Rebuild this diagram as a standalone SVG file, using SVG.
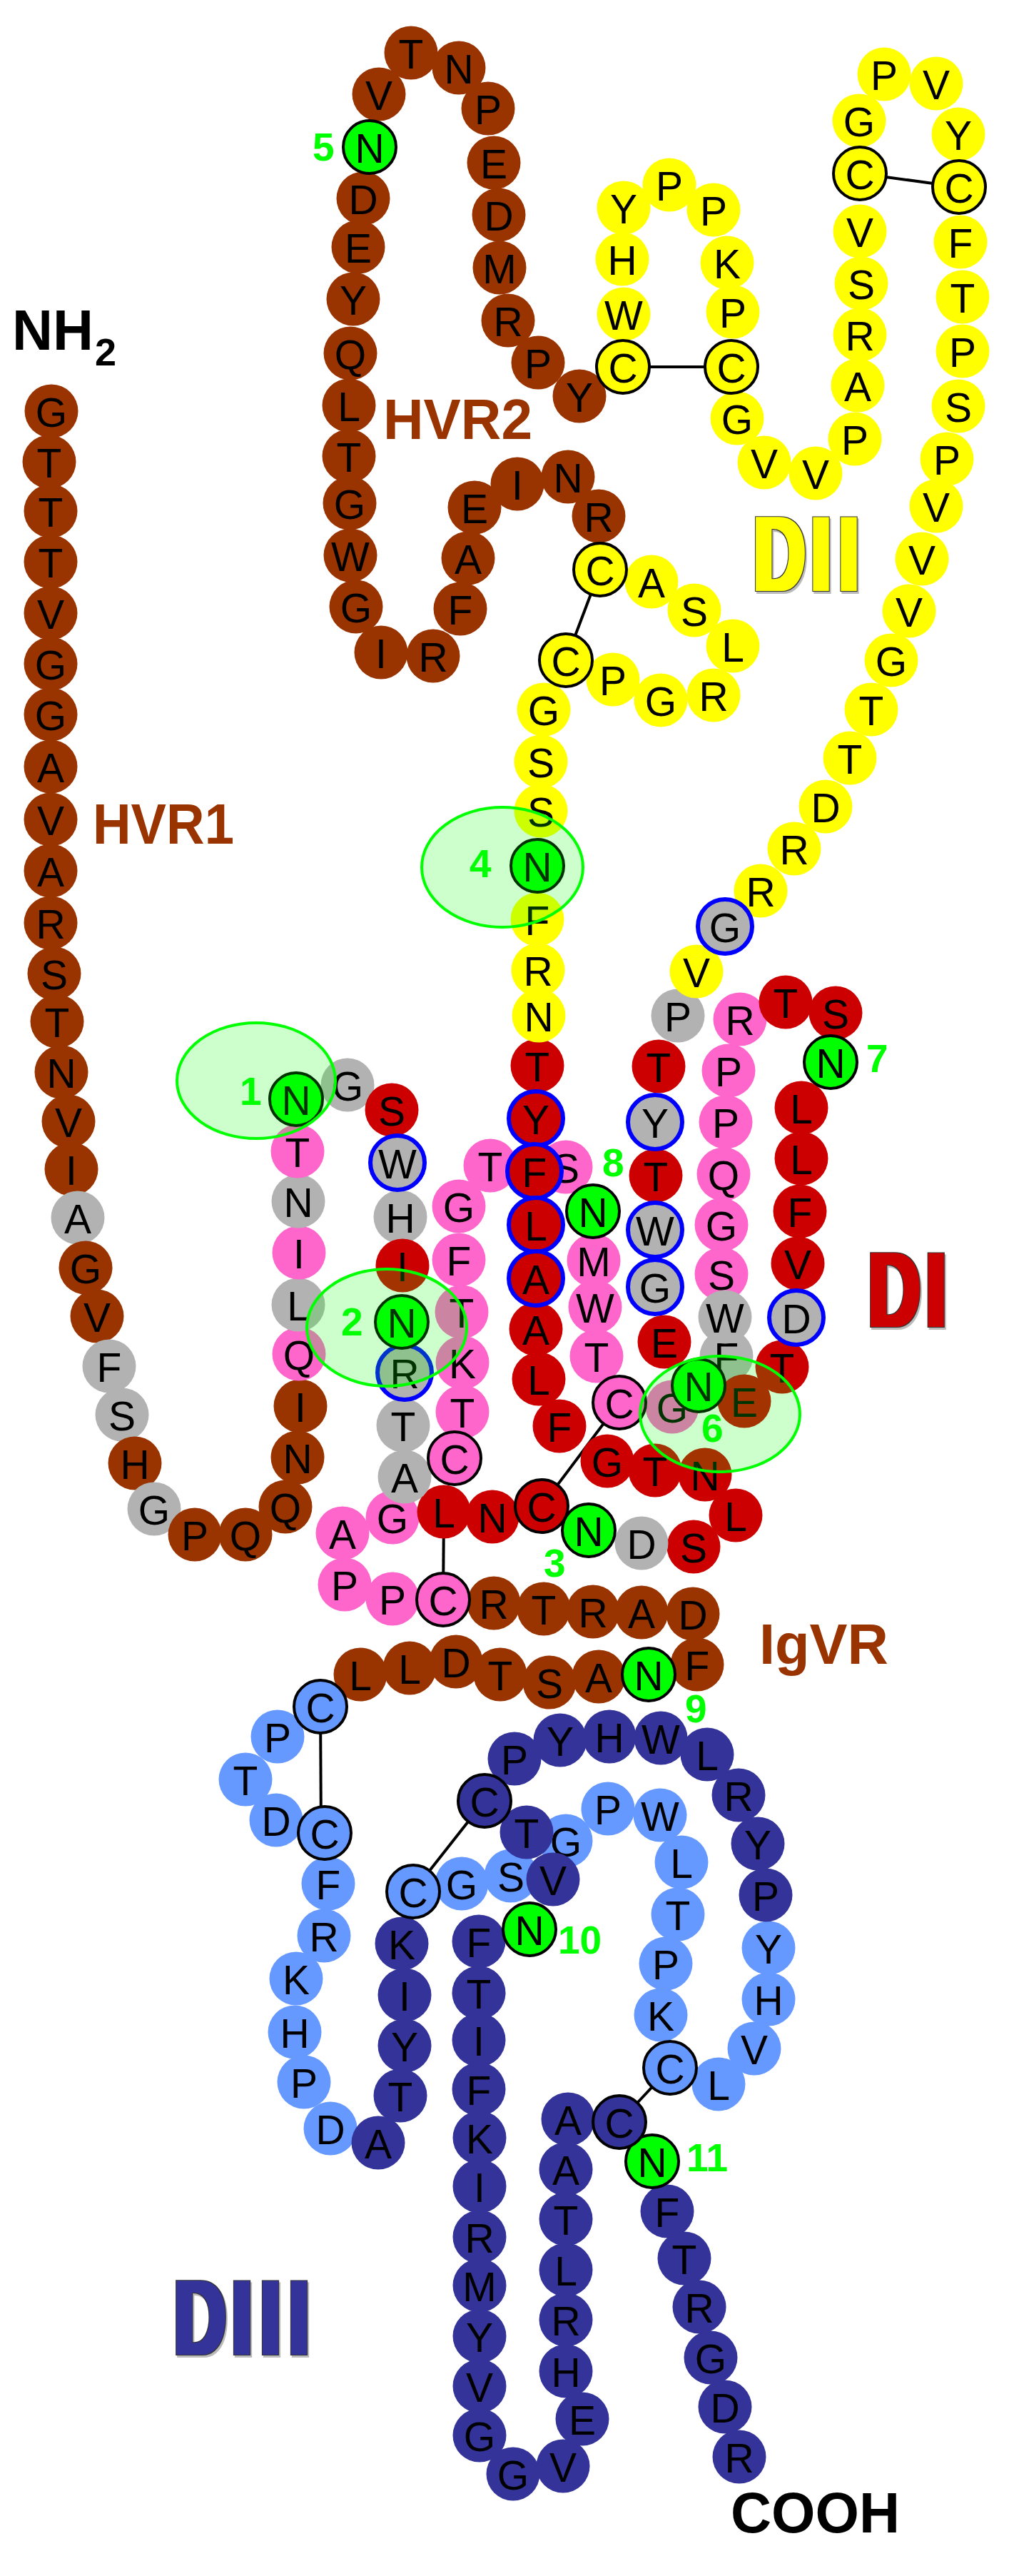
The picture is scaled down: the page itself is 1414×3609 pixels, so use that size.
<svg xmlns="http://www.w3.org/2000/svg" width="1414" height="3609" viewBox="0 0 1414 3609">
<style>
text{font-family:"Liberation Sans",Arial,sans-serif}
.a text{font-size:57px;text-anchor:middle;fill:#000}
.a circle{stroke:none}
.br circle{fill:#993300}.ye circle{fill:#ffff00}.re circle{fill:#cc0000}.pk circle{fill:#ff66cc}.gr circle{fill:#b2b2b2}.lb circle{fill:#6699ff}.db circle{fill:#333399}.gn circle{fill:#00ff00}
.k circle{stroke:#000;stroke-width:4}
.u circle{stroke:#0000ff;stroke-width:6}
.bond{stroke:#000;stroke-width:4;fill:none}
.site{fill:#00ff00;fill-opacity:.2;stroke:#00ff00;stroke-width:4}
.num{font-size:55px;font-weight:bold;fill:#00ff00}
.lab{font-weight:bold;font-size:80px;fill:#993300}
.bk{fill:#000}
.dom{font-weight:bold;font-size:150px}
</style>
<defs>
<filter id="heavy" filterUnits="userSpaceOnUse" x="0" y="0" width="1414" height="3609" color-interpolation-filters="sRGB">
<feMorphology in="SourceGraphic" operator="dilate" radius="4 0" result="f"/>
<feMorphology in="f" operator="dilate" radius="1" result="o"/>
<feFlood flood-color="#333333"/>
<feComposite in2="o" operator="in" result="edge"/>
<feOffset in="o" dx="2" dy="3" result="s"/>
<feFlood flood-color="#bbbbbb"/>
<feComposite in2="s" operator="in" result="shadow"/>
<feMerge><feMergeNode in="shadow"/><feMergeNode in="edge"/><feMergeNode in="f"/></feMerge>
</filter>
</defs>
<rect width="1414" height="3609" fill="#fff"/>
<g id="connectors">
<line class="bond" x1="873" y1="514" x2="1025" y2="514"/>
<line class="bond" x1="1205" y1="243" x2="1344" y2="262"/>
<line class="bond" x1="841" y1="798" x2="793" y2="925"/>
<line class="bond" x1="622" y1="2118" x2="621" y2="2241"/>
<line class="bond" x1="759" y1="2110" x2="868" y2="1965"/>
<line class="bond" x1="449" y1="2391" x2="450" y2="2568"/>
<line class="bond" x1="679" y1="2523" x2="579" y2="2650"/>
<line class="bond" x1="939" y1="2897" x2="868" y2="2973"/>
</g>
<g id="n1" class="a br"><circle cx="72" cy="576" r="37.5"/><text x="72" y="598">G</text></g>
<g id="n2" class="a br"><circle cx="69" cy="647" r="37.5"/><text x="69" y="669">T</text></g>
<g id="n3" class="a br"><circle cx="71" cy="716" r="37.5"/><text x="71" y="738">T</text></g>
<g id="n4" class="a br"><circle cx="71" cy="787" r="37.5"/><text x="71" y="809">T</text></g>
<g id="n5" class="a br"><circle cx="71" cy="859" r="37.5"/><text x="71" y="881">V</text></g>
<g id="n6" class="a br"><circle cx="71" cy="930" r="37.5"/><text x="71" y="952">G</text></g>
<g id="n7" class="a br"><circle cx="71" cy="1001" r="37.5"/><text x="71" y="1023">G</text></g>
<g id="n8" class="a br"><circle cx="71" cy="1074" r="37.5"/><text x="71" y="1096">A</text></g>
<g id="n9" class="a br"><circle cx="71" cy="1148" r="37.5"/><text x="71" y="1170">V</text></g>
<g id="n10" class="a br"><circle cx="71" cy="1220" r="37.5"/><text x="71" y="1242">A</text></g>
<g id="n11" class="a br"><circle cx="71" cy="1293" r="37.5"/><text x="71" y="1315">R</text></g>
<g id="n12" class="a br"><circle cx="76" cy="1364" r="37.5"/><text x="76" y="1386">S</text></g>
<g id="n13" class="a br"><circle cx="80" cy="1431" r="37.5"/><text x="80" y="1453">T</text></g>
<g id="n14" class="a br"><circle cx="86" cy="1502" r="37.5"/><text x="86" y="1524">N</text></g>
<g id="n15" class="a br"><circle cx="96" cy="1571" r="37.5"/><text x="96" y="1593">V</text></g>
<g id="n16" class="a br"><circle cx="100" cy="1638" r="37.5"/><text x="100" y="1660">I</text></g>
<g id="n17" class="a gr"><circle cx="109" cy="1706" r="37.5"/><text x="109" y="1728">A</text></g>
<g id="n18" class="a br"><circle cx="120" cy="1776" r="37.5"/><text x="120" y="1798">G</text></g>
<g id="n19" class="a br"><circle cx="136" cy="1844" r="37.5"/><text x="136" y="1866">V</text></g>
<g id="n20" class="a gr"><circle cx="153" cy="1914" r="37.5"/><text x="153" y="1936">F</text></g>
<g id="n21" class="a gr"><circle cx="171" cy="1982" r="37.5"/><text x="171" y="2004">S</text></g>
<g id="n22" class="a br"><circle cx="189" cy="2050" r="37.5"/><text x="189" y="2072">H</text></g>
<g id="n23" class="a gr"><circle cx="216" cy="2114" r="37.5"/><text x="216" y="2136">G</text></g>
<g id="n24" class="a br"><circle cx="273" cy="2150" r="37.5"/><text x="273" y="2172">P</text></g>
<g id="n25" class="a br"><circle cx="344" cy="2150" r="37.5"/><text x="344" y="2172">Q</text></g>
<g id="n26" class="a br"><circle cx="400" cy="2111" r="37.5"/><text x="400" y="2133">Q</text></g>
<g id="n27" class="a br"><circle cx="417" cy="2042" r="37.5"/><text x="417" y="2064">N</text></g>
<g id="n28" class="a br"><circle cx="421" cy="1970" r="37.5"/><text x="421" y="1992">I</text></g>
<g id="n29" class="a pk"><circle cx="419" cy="1897" r="37.5"/><text x="419" y="1919">Q</text></g>
<g id="n30" class="a gr"><circle cx="418" cy="1828" r="37.5"/><text x="418" y="1850">L</text></g>
<g id="n31" class="a pk"><circle cx="419" cy="1755" r="37.5"/><text x="419" y="1777">I</text></g>
<g id="n32" class="a gr"><circle cx="418" cy="1683" r="37.5"/><text x="418" y="1705">N</text></g>
<g id="n33" class="a pk"><circle cx="417" cy="1613" r="37.5"/><text x="417" y="1635">T</text></g>
<g id="n35" class="a gr"><circle cx="487" cy="1520" r="37.5"/><text x="487" y="1542">G</text></g>
<g id="n36" class="a re"><circle cx="549" cy="1555" r="37.5"/><text x="549" y="1577">S</text></g>
<g id="n38" class="a gr"><circle cx="561" cy="1705" r="37.5"/><text x="561" y="1727">H</text></g>
<g id="n39" class="a re"><circle cx="564" cy="1773" r="37.5"/><text x="564" y="1795">I</text></g>
<g id="n42" class="a gr"><circle cx="565" cy="1997" r="37.5"/><text x="565" y="2019">T</text></g>
<g id="n44" class="a pk"><circle cx="550" cy="2126" r="37.5"/><text x="550" y="2148">G</text></g>
<g id="n45" class="a pk"><circle cx="480" cy="2148" r="37.5"/><text x="480" y="2170">A</text></g>
<g id="n46" class="a pk"><circle cx="483" cy="2220" r="37.5"/><text x="483" y="2242">P</text></g>
<g id="n47" class="a pk"><circle cx="550" cy="2240" r="37.5"/><text x="550" y="2262">P</text></g>
<g id="n48" class="a re"><circle cx="622" cy="2118" r="37.5"/><text x="622" y="2140">L</text></g>
<g id="n43" class="a gr"><circle cx="567" cy="2069" r="37.5"/><text x="567" y="2091">A</text></g>
<g id="n49" class="a pk"><circle cx="648" cy="1978" r="37.5"/><text x="648" y="2000">T</text></g>
<g id="n50" class="a pk"><circle cx="648" cy="1909" r="37.5"/><text x="648" y="1931">K</text></g>
<g id="n51" class="a pk"><circle cx="647" cy="1838" r="37.5"/><text x="647" y="1860">T</text></g>
<g id="n52" class="a pk"><circle cx="643" cy="1765" r="37.5"/><text x="643" y="1787">F</text></g>
<g id="n53" class="a pk"><circle cx="643" cy="1690" r="37.5"/><text x="643" y="1712">G</text></g>
<g id="n54" class="a pk"><circle cx="687" cy="1633" r="37.5"/><text x="687" y="1655">T</text></g>
<g id="n55" class="a pk"><circle cx="793" cy="1635" r="37.5"/><text x="793" y="1657">S</text></g>
<g id="n56" class="a pk"><circle cx="832" cy="1766" r="37.5"/><text x="832" y="1788">M</text></g>
<g id="n57" class="a pk"><circle cx="834" cy="1831" r="37.5"/><text x="834" y="1853">W</text></g>
<g id="n58" class="a pk"><circle cx="836" cy="1900" r="37.5"/><text x="836" y="1922">T</text></g>
<g id="n59" class="a re"><circle cx="753" cy="1493" r="37.5"/><text x="753" y="1515">T</text></g>
<g id="n60" class="a re"><circle cx="751" cy="1862" r="37.5"/><text x="751" y="1884">A</text></g>
<g id="n61" class="a re"><circle cx="755" cy="1932" r="37.5"/><text x="755" y="1954">L</text></g>
<g id="n62" class="a re"><circle cx="784" cy="1998" r="37.5"/><text x="784" y="2020">F</text></g>
<g id="n63" class="a re"><circle cx="851" cy="2047" r="37.5"/><text x="851" y="2069">G</text></g>
<g id="n64" class="a re"><circle cx="918" cy="2060" r="37.5"/><text x="918" y="2082">T</text></g>
<g id="n65" class="a re"><circle cx="988" cy="2066" r="37.5"/><text x="988" y="2088">N</text></g>
<g id="n66" class="a re"><circle cx="1031" cy="2123" r="37.5"/><text x="1031" y="2145">L</text></g>
<g id="n67" class="a re"><circle cx="972" cy="2167" r="37.5"/><text x="972" y="2189">S</text></g>
<g id="n68" class="a gr"><circle cx="899" cy="2162" r="37.5"/><text x="899" y="2184">D</text></g>
<g id="n69" class="a re"><circle cx="690" cy="2125" r="37.5"/><text x="690" y="2147">N</text></g>
<g id="n70" class="a re"><circle cx="923" cy="1494" r="37.5"/><text x="923" y="1516">T</text></g>
<g id="n71" class="a re"><circle cx="919" cy="1647" r="37.5"/><text x="919" y="1669">T</text></g>
<g id="n72" class="a re"><circle cx="931" cy="1880" r="37.5"/><text x="931" y="1902">E</text></g>
<g id="n73" class="a pk"><circle cx="942" cy="1971" r="37.5"/><text x="942" y="1993">G</text></g>
<g id="n74" class="a gr"><circle cx="950" cy="1423" r="37.5"/><text x="950" y="1445">P</text></g>
<g id="n75" class="a pk"><circle cx="1037" cy="1428" r="37.5"/><text x="1037" y="1450">R</text></g>
<g id="n76" class="a pk"><circle cx="1021" cy="1500" r="37.5"/><text x="1021" y="1522">P</text></g>
<g id="n77" class="a pk"><circle cx="1017" cy="1572" r="37.5"/><text x="1017" y="1594">P</text></g>
<g id="n78" class="a pk"><circle cx="1014" cy="1645" r="37.5"/><text x="1014" y="1667">Q</text></g>
<g id="n79" class="a pk"><circle cx="1011" cy="1716" r="37.5"/><text x="1011" y="1738">G</text></g>
<g id="n80" class="a pk"><circle cx="1011" cy="1785" r="37.5"/><text x="1011" y="1807">S</text></g>
<g id="n82" class="a gr"><circle cx="1018" cy="1900" r="37.5"/><text x="1018" y="1922">F</text></g>
<g id="n81" class="a gr"><circle cx="1016" cy="1845" r="37.5"/><text x="1016" y="1867">W</text></g>
<g id="n83" class="a re"><circle cx="1096" cy="1915" r="37.5"/><text x="1096" y="1937">T</text></g>
<g id="n84" class="a re"><circle cx="1043" cy="1963" r="37.5"/><text x="1043" y="1985">E</text></g>
<g id="n85" class="a re"><circle cx="1101" cy="1404" r="37.5"/><text x="1101" y="1426">T</text></g>
<g id="n86" class="a re"><circle cx="1171" cy="1419" r="37.5"/><text x="1171" y="1441">S</text></g>
<g id="n87" class="a re"><circle cx="1123" cy="1552" r="37.5"/><text x="1123" y="1574">L</text></g>
<g id="n88" class="a re"><circle cx="1123" cy="1623" r="37.5"/><text x="1123" y="1645">L</text></g>
<g id="n89" class="a re"><circle cx="1121" cy="1697" r="37.5"/><text x="1121" y="1719">F</text></g>
<g id="n90" class="a re"><circle cx="1118" cy="1770" r="37.5"/><text x="1118" y="1792">V</text></g>
<g id="n92" class="a br"><circle cx="489" cy="639" r="37.5"/><text x="489" y="661">T</text></g>
<g id="n93" class="a br"><circle cx="489" cy="568" r="37.5"/><text x="489" y="590">L</text></g>
<g id="n94" class="a br"><circle cx="491" cy="495" r="37.5"/><text x="491" y="517">Q</text></g>
<g id="n95" class="a br"><circle cx="495" cy="419" r="37.5"/><text x="495" y="441">Y</text></g>
<g id="n96" class="a br"><circle cx="502" cy="346" r="37.5"/><text x="502" y="368">E</text></g>
<g id="n97" class="a br"><circle cx="509" cy="278" r="37.5"/><text x="509" y="300">D</text></g>
<g id="n99" class="a br"><circle cx="531" cy="132" r="37.5"/><text x="531" y="154">V</text></g>
<g id="n100" class="a br"><circle cx="576" cy="74" r="37.5"/><text x="576" y="96">T</text></g>
<g id="n101" class="a br"><circle cx="643" cy="95" r="37.5"/><text x="643" y="117">N</text></g>
<g id="n102" class="a br"><circle cx="684" cy="152" r="37.5"/><text x="684" y="174">P</text></g>
<g id="n103" class="a br"><circle cx="692" cy="228" r="37.5"/><text x="692" y="250">E</text></g>
<g id="n104" class="a br"><circle cx="699" cy="301" r="37.5"/><text x="699" y="323">D</text></g>
<g id="n105" class="a br"><circle cx="700" cy="375" r="37.5"/><text x="700" y="397">M</text></g>
<g id="n106" class="a br"><circle cx="712" cy="449" r="37.5"/><text x="712" y="471">R</text></g>
<g id="n107" class="a br"><circle cx="754" cy="508" r="37.5"/><text x="754" y="530">P</text></g>
<g id="n108" class="a br"><circle cx="812" cy="555" r="37.5"/><text x="812" y="577">Y</text></g>
<g id="n109" class="a br"><circle cx="490" cy="705" r="37.5"/><text x="490" y="727">G</text></g>
<g id="n110" class="a br"><circle cx="491" cy="778" r="37.5"/><text x="491" y="800">W</text></g>
<g id="n111" class="a br"><circle cx="499" cy="850" r="37.5"/><text x="499" y="872">G</text></g>
<g id="n112" class="a br"><circle cx="534" cy="914" r="37.5"/><text x="534" y="936">I</text></g>
<g id="n113" class="a br"><circle cx="607" cy="919" r="37.5"/><text x="607" y="941">R</text></g>
<g id="n114" class="a br"><circle cx="645" cy="853" r="37.5"/><text x="645" y="875">F</text></g>
<g id="n115" class="a br"><circle cx="656" cy="782" r="37.5"/><text x="656" y="804">A</text></g>
<g id="n116" class="a br"><circle cx="665" cy="711" r="37.5"/><text x="665" y="733">E</text></g>
<g id="n117" class="a br"><circle cx="725" cy="678" r="37.5"/><text x="725" y="700">I</text></g>
<g id="n118" class="a br"><circle cx="796" cy="668" r="37.5"/><text x="796" y="690">N</text></g>
<g id="n119" class="a br"><circle cx="839" cy="723" r="37.5"/><text x="839" y="745">R</text></g>
<g id="n120" class="a ye"><circle cx="913" cy="815" r="37.5"/><text x="913" y="837">A</text></g>
<g id="n121" class="a ye"><circle cx="973" cy="855" r="37.5"/><text x="973" y="877">S</text></g>
<g id="n122" class="a ye"><circle cx="1027" cy="905" r="37.5"/><text x="1027" y="927">L</text></g>
<g id="n123" class="a ye"><circle cx="1000" cy="974" r="37.5"/><text x="1000" y="996">R</text></g>
<g id="n124" class="a ye"><circle cx="926" cy="981" r="37.5"/><text x="926" y="1003">G</text></g>
<g id="n125" class="a ye"><circle cx="859" cy="952" r="37.5"/><text x="859" y="974">P</text></g>
<g id="n126" class="a ye"><circle cx="762" cy="994" r="37.5"/><text x="762" y="1016">G</text></g>
<g id="n127" class="a ye"><circle cx="758" cy="1067" r="37.5"/><text x="758" y="1089">S</text></g>
<g id="n128" class="a ye"><circle cx="758" cy="1136" r="37.5"/><text x="758" y="1158">S</text></g>
<g id="n129" class="a ye"><circle cx="753" cy="1288" r="37.5"/><text x="753" y="1310">F</text></g>
<g id="n130" class="a ye"><circle cx="754" cy="1359" r="37.5"/><text x="754" y="1381">R</text></g>
<g id="n131" class="a ye"><circle cx="755" cy="1423" r="37.5"/><text x="755" y="1445">N</text></g>
<g id="n132" class="a ye"><circle cx="874" cy="440" r="37.5"/><text x="874" y="462">W</text></g>
<g id="n133" class="a ye"><circle cx="872" cy="363" r="37.5"/><text x="872" y="385">H</text></g>
<g id="n134" class="a ye"><circle cx="874" cy="291" r="37.5"/><text x="874" y="313">Y</text></g>
<g id="n135" class="a ye"><circle cx="938" cy="259" r="37.5"/><text x="938" y="281">P</text></g>
<g id="n136" class="a ye"><circle cx="1000" cy="294" r="37.5"/><text x="1000" y="316">P</text></g>
<g id="n137" class="a ye"><circle cx="1019" cy="368" r="37.5"/><text x="1019" y="390">K</text></g>
<g id="n138" class="a ye"><circle cx="1027" cy="437" r="37.5"/><text x="1027" y="459">P</text></g>
<g id="n139" class="a ye"><circle cx="1033" cy="586" r="37.5"/><text x="1033" y="608">G</text></g>
<g id="n140" class="a ye"><circle cx="1071" cy="648" r="37.5"/><text x="1071" y="670">V</text></g>
<g id="n141" class="a ye"><circle cx="1143" cy="663" r="37.5"/><text x="1143" y="685">V</text></g>
<g id="n142" class="a ye"><circle cx="1198" cy="615" r="37.5"/><text x="1198" y="637">P</text></g>
<g id="n143" class="a ye"><circle cx="1202" cy="540" r="37.5"/><text x="1202" y="562">A</text></g>
<g id="n144" class="a ye"><circle cx="1205" cy="469" r="37.5"/><text x="1205" y="491">R</text></g>
<g id="n145" class="a ye"><circle cx="1207" cy="397" r="37.5"/><text x="1207" y="419">S</text></g>
<g id="n146" class="a ye"><circle cx="1205" cy="324" r="37.5"/><text x="1205" y="346">V</text></g>
<g id="n147" class="a ye"><circle cx="1204" cy="169" r="37.5"/><text x="1204" y="191">G</text></g>
<g id="n148" class="a ye"><circle cx="1239" cy="104" r="37.5"/><text x="1239" y="126">P</text></g>
<g id="n149" class="a ye"><circle cx="1312" cy="117" r="37.5"/><text x="1312" y="139">V</text></g>
<g id="n150" class="a ye"><circle cx="1343" cy="188" r="37.5"/><text x="1343" y="210">Y</text></g>
<g id="n151" class="a ye"><circle cx="1346" cy="339" r="37.5"/><text x="1346" y="361">F</text></g>
<g id="n152" class="a ye"><circle cx="1349" cy="416" r="37.5"/><text x="1349" y="438">T</text></g>
<g id="n153" class="a ye"><circle cx="1349" cy="492" r="37.5"/><text x="1349" y="514">P</text></g>
<g id="n154" class="a ye"><circle cx="1343" cy="569" r="37.5"/><text x="1343" y="591">S</text></g>
<g id="n155" class="a ye"><circle cx="1327" cy="643" r="37.5"/><text x="1327" y="665">P</text></g>
<g id="n156" class="a ye"><circle cx="1312" cy="709" r="37.5"/><text x="1312" y="731">V</text></g>
<g id="n157" class="a ye"><circle cx="1292" cy="783" r="37.5"/><text x="1292" y="805">V</text></g>
<g id="n158" class="a ye"><circle cx="1274" cy="856" r="37.5"/><text x="1274" y="878">V</text></g>
<g id="n159" class="a ye"><circle cx="1249" cy="925" r="37.5"/><text x="1249" y="947">G</text></g>
<g id="n160" class="a ye"><circle cx="1221" cy="994" r="37.5"/><text x="1221" y="1016">T</text></g>
<g id="n161" class="a ye"><circle cx="1191" cy="1062" r="37.5"/><text x="1191" y="1084">T</text></g>
<g id="n162" class="a ye"><circle cx="1157" cy="1130" r="37.5"/><text x="1157" y="1152">D</text></g>
<g id="n163" class="a ye"><circle cx="1113" cy="1189" r="37.5"/><text x="1113" y="1211">R</text></g>
<g id="n164" class="a ye"><circle cx="1066" cy="1248" r="37.5"/><text x="1066" y="1270">R</text></g>
<g id="n165" class="a ye"><circle cx="976" cy="1361" r="37.5"/><text x="976" y="1383">V</text></g>
<g id="n170" class="a br"><circle cx="692" cy="2246" r="37.5"/><text x="692" y="2268">R</text></g>
<g id="n171" class="a br"><circle cx="762" cy="2254" r="37.5"/><text x="762" y="2276">T</text></g>
<g id="n172" class="a br"><circle cx="831" cy="2258" r="37.5"/><text x="831" y="2280">R</text></g>
<g id="n173" class="a br"><circle cx="899" cy="2259" r="37.5"/><text x="899" y="2281">A</text></g>
<g id="n174" class="a br"><circle cx="971" cy="2261" r="37.5"/><text x="971" y="2283">D</text></g>
<g id="n175" class="a br"><circle cx="977" cy="2332" r="37.5"/><text x="977" y="2354">F</text></g>
<g id="n176" class="a br"><circle cx="839" cy="2349" r="37.5"/><text x="839" y="2371">A</text></g>
<g id="n177" class="a br"><circle cx="770" cy="2357" r="37.5"/><text x="770" y="2379">S</text></g>
<g id="n178" class="a br"><circle cx="701" cy="2346" r="37.5"/><text x="701" y="2368">T</text></g>
<g id="n179" class="a br"><circle cx="639" cy="2328" r="37.5"/><text x="639" y="2350">D</text></g>
<g id="n180" class="a br"><circle cx="574" cy="2337" r="37.5"/><text x="574" y="2359">L</text></g>
<g id="n181" class="a br"><circle cx="505" cy="2346" r="37.5"/><text x="505" y="2368">L</text></g>
<g id="n182" class="a lb"><circle cx="389" cy="2433" r="37.5"/><text x="389" y="2455">P</text></g>
<g id="n183" class="a lb"><circle cx="344" cy="2493" r="37.5"/><text x="344" y="2515">T</text></g>
<g id="n184" class="a lb"><circle cx="387" cy="2550" r="37.5"/><text x="387" y="2572">D</text></g>
<g id="n185" class="a lb"><circle cx="460" cy="2639" r="37.5"/><text x="460" y="2661">F</text></g>
<g id="n186" class="a lb"><circle cx="454" cy="2712" r="37.5"/><text x="454" y="2734">R</text></g>
<g id="n187" class="a lb"><circle cx="415" cy="2772" r="37.5"/><text x="415" y="2794">K</text></g>
<g id="n188" class="a lb"><circle cx="413" cy="2847" r="37.5"/><text x="413" y="2869">H</text></g>
<g id="n189" class="a lb"><circle cx="426" cy="2917" r="37.5"/><text x="426" y="2939">P</text></g>
<g id="n190" class="a lb"><circle cx="463" cy="2982" r="37.5"/><text x="463" y="3004">D</text></g>
<g id="n191" class="a lb"><circle cx="647" cy="2639" r="37.5"/><text x="647" y="2661">G</text></g>
<g id="n192" class="a lb"><circle cx="716" cy="2628" r="37.5"/><text x="716" y="2650">S</text></g>
<g id="n193" class="a lb"><circle cx="793" cy="2579" r="37.5"/><text x="793" y="2601">G</text></g>
<g id="n194" class="a lb"><circle cx="852" cy="2534" r="37.5"/><text x="852" y="2556">P</text></g>
<g id="n195" class="a lb"><circle cx="925" cy="2543" r="37.5"/><text x="925" y="2565">W</text></g>
<g id="n196" class="a lb"><circle cx="955" cy="2609" r="37.5"/><text x="955" y="2631">L</text></g>
<g id="n197" class="a lb"><circle cx="950" cy="2682" r="37.5"/><text x="950" y="2704">T</text></g>
<g id="n198" class="a lb"><circle cx="933" cy="2751" r="37.5"/><text x="933" y="2773">P</text></g>
<g id="n199" class="a lb"><circle cx="926" cy="2823" r="37.5"/><text x="926" y="2845">K</text></g>
<g id="n200" class="a lb"><circle cx="1007" cy="2920" r="37.5"/><text x="1007" y="2942">L</text></g>
<g id="n201" class="a lb"><circle cx="1057" cy="2870" r="37.5"/><text x="1057" y="2892">V</text></g>
<g id="n202" class="a lb"><circle cx="1077" cy="2801" r="37.5"/><text x="1077" y="2823">H</text></g>
<g id="n203" class="a lb"><circle cx="1077" cy="2729" r="37.5"/><text x="1077" y="2751">Y</text></g>
<g id="n204" class="a db"><circle cx="1073" cy="2655" r="37.5"/><text x="1073" y="2677">P</text></g>
<g id="n205" class="a db"><circle cx="1062" cy="2583" r="37.5"/><text x="1062" y="2605">Y</text></g>
<g id="n206" class="a db"><circle cx="1035" cy="2515" r="37.5"/><text x="1035" y="2537">R</text></g>
<g id="n207" class="a db"><circle cx="991" cy="2458" r="37.5"/><text x="991" y="2480">L</text></g>
<g id="n208" class="a db"><circle cx="926" cy="2435" r="37.5"/><text x="926" y="2457">W</text></g>
<g id="n209" class="a db"><circle cx="854" cy="2433" r="37.5"/><text x="854" y="2455">H</text></g>
<g id="n210" class="a db"><circle cx="785" cy="2438" r="37.5"/><text x="785" y="2460">Y</text></g>
<g id="n211" class="a db"><circle cx="721" cy="2464" r="37.5"/><text x="721" y="2486">P</text></g>
<g id="n212" class="a db"><circle cx="738" cy="2567" r="37.5"/><text x="738" y="2589">T</text></g>
<g id="n213" class="a db"><circle cx="775" cy="2633" r="37.5"/><text x="775" y="2655">V</text></g>
<g id="n214" class="a db"><circle cx="563" cy="2723" r="37.5"/><text x="563" y="2745">K</text></g>
<g id="n215" class="a db"><circle cx="567" cy="2795" r="37.5"/><text x="567" y="2817">I</text></g>
<g id="n216" class="a db"><circle cx="567" cy="2866" r="37.5"/><text x="567" y="2888">Y</text></g>
<g id="n217" class="a db"><circle cx="561" cy="2936" r="37.5"/><text x="561" y="2958">T</text></g>
<g id="n218" class="a db"><circle cx="530" cy="3002" r="37.5"/><text x="530" y="3024">A</text></g>
<g id="n219" class="a db"><circle cx="671" cy="2720" r="37.5"/><text x="671" y="2742">F</text></g>
<g id="n220" class="a db"><circle cx="671" cy="2792" r="37.5"/><text x="671" y="2814">T</text></g>
<g id="n221" class="a db"><circle cx="671" cy="2858" r="37.5"/><text x="671" y="2880">I</text></g>
<g id="n222" class="a db"><circle cx="671" cy="2927" r="37.5"/><text x="671" y="2949">F</text></g>
<g id="n223" class="a db"><circle cx="672" cy="2995" r="37.5"/><text x="672" y="3017">K</text></g>
<g id="n224" class="a db"><circle cx="672" cy="3063" r="37.5"/><text x="672" y="3085">I</text></g>
<g id="n225" class="a db"><circle cx="672" cy="3134" r="37.5"/><text x="672" y="3156">R</text></g>
<g id="n226" class="a db"><circle cx="672" cy="3202" r="37.5"/><text x="672" y="3224">M</text></g>
<g id="n227" class="a db"><circle cx="672" cy="3273" r="37.5"/><text x="672" y="3295">Y</text></g>
<g id="n228" class="a db"><circle cx="672" cy="3343" r="37.5"/><text x="672" y="3365">V</text></g>
<g id="n229" class="a db"><circle cx="672" cy="3412" r="37.5"/><text x="672" y="3434">G</text></g>
<g id="n230" class="a db"><circle cx="719" cy="3466" r="37.5"/><text x="719" y="3488">G</text></g>
<g id="n231" class="a db"><circle cx="789" cy="3455" r="37.5"/><text x="789" y="3477">V</text></g>
<g id="n232" class="a db"><circle cx="816" cy="3389" r="37.5"/><text x="816" y="3411">E</text></g>
<g id="n233" class="a db"><circle cx="793" cy="3322" r="37.5"/><text x="793" y="3344">H</text></g>
<g id="n234" class="a db"><circle cx="793" cy="3250" r="37.5"/><text x="793" y="3272">R</text></g>
<g id="n235" class="a db"><circle cx="793" cy="3180" r="37.5"/><text x="793" y="3202">L</text></g>
<g id="n236" class="a db"><circle cx="793" cy="3109" r="37.5"/><text x="793" y="3131">T</text></g>
<g id="n237" class="a db"><circle cx="793" cy="3039" r="37.5"/><text x="793" y="3061">A</text></g>
<g id="n238" class="a db"><circle cx="796" cy="2969" r="37.5"/><text x="796" y="2991">A</text></g>
<g id="n239" class="a db"><circle cx="935" cy="3098" r="37.5"/><text x="935" y="3120">F</text></g>
<g id="n240" class="a db"><circle cx="959" cy="3164" r="37.5"/><text x="959" y="3186">T</text></g>
<g id="n241" class="a db"><circle cx="980" cy="3232" r="37.5"/><text x="980" y="3254">R</text></g>
<g id="n242" class="a db"><circle cx="996" cy="3303" r="37.5"/><text x="996" y="3325">G</text></g>
<g id="n243" class="a db"><circle cx="1016" cy="3372" r="37.5"/><text x="1016" y="3394">D</text></g>
<g id="n244" class="a db"><circle cx="1036" cy="3442" r="37.5"/><text x="1036" y="3464">R</text></g>
<g id="n245" class="a gr u"><circle cx="557" cy="1629" r="38"/><text x="557" y="1651">W</text></g>
<g id="n246" class="a gr u"><circle cx="567" cy="1923" r="38"/><text x="567" y="1945">R</text></g>
<g id="n247" class="a re u"><circle cx="751" cy="1567" r="38"/><text x="751" y="1589">Y</text></g>
<g id="n248" class="a re u"><circle cx="749" cy="1641" r="38"/><text x="749" y="1663">F</text></g>
<g id="n249" class="a re u"><circle cx="751" cy="1716" r="38"/><text x="751" y="1738">L</text></g>
<g id="n250" class="a re u"><circle cx="751" cy="1791" r="38"/><text x="751" y="1813">A</text></g>
<g id="n251" class="a gr u"><circle cx="918" cy="1572" r="38"/><text x="918" y="1594">Y</text></g>
<g id="n252" class="a gr u"><circle cx="918" cy="1723" r="38"/><text x="918" y="1745">W</text></g>
<g id="n253" class="a gr u"><circle cx="918" cy="1803" r="38"/><text x="918" y="1825">G</text></g>
<g id="n254" class="a gr u"><circle cx="1116" cy="1846" r="38"/><text x="1116" y="1868">D</text></g>
<g id="n255" class="a gr u"><circle cx="1016" cy="1298" r="38"/><text x="1016" y="1320">G</text></g>
<g id="n256" class="a gn k"><circle cx="518" cy="206" r="37"/><text x="518" y="228">N</text></g>
<g id="n257" class="a gn k"><circle cx="415" cy="1540" r="37"/><text x="415" y="1562">N</text></g>
<g id="n258" class="a gn k"><circle cx="563" cy="1852" r="37"/><text x="563" y="1874">N</text></g>
<g id="n259" class="a gn k"><circle cx="825" cy="2144" r="37"/><text x="825" y="2166">N</text></g>
<g id="n260" class="a gn k"><circle cx="753" cy="1213" r="37"/><text x="753" y="1235">N</text></g>
<g id="n261" class="a gn k"><circle cx="979" cy="1941" r="37"/><text x="979" y="1963">N</text></g>
<g id="n262" class="a gn k"><circle cx="1164" cy="1488" r="37"/><text x="1164" y="1510">N</text></g>
<g id="n263" class="a gn k"><circle cx="831" cy="1697" r="37"/><text x="831" y="1719">N</text></g>
<g id="n264" class="a gn k"><circle cx="909" cy="2346" r="37"/><text x="909" y="2368">N</text></g>
<g id="n265" class="a gn k"><circle cx="742" cy="2703" r="37"/><text x="742" y="2725">N</text></g>
<g id="n266" class="a gn k"><circle cx="914" cy="3028" r="37"/><text x="914" y="3050">N</text></g>
<g id="n267" class="a ye k"><circle cx="873" cy="514" r="37"/><text x="873" y="536">C</text></g>
<g id="n268" class="a ye k"><circle cx="1025" cy="514" r="37"/><text x="1025" y="536">C</text></g>
<g id="n269" class="a ye k"><circle cx="1205" cy="243" r="37"/><text x="1205" y="265">C</text></g>
<g id="n270" class="a ye k"><circle cx="1344" cy="262" r="37"/><text x="1344" y="284">C</text></g>
<g id="n271" class="a ye k"><circle cx="841" cy="798" r="37"/><text x="841" y="820">C</text></g>
<g id="n272" class="a ye k"><circle cx="793" cy="925" r="37"/><text x="793" y="947">C</text></g>
<g id="n273" class="a pk k"><circle cx="637" cy="2043" r="37"/><text x="637" y="2065">C</text></g>
<g id="n274" class="a pk k"><circle cx="621" cy="2241" r="37"/><text x="621" y="2263">C</text></g>
<g id="n275" class="a pk k"><circle cx="868" cy="1965" r="37"/><text x="868" y="1987">C</text></g>
<g id="n276" class="a re k"><circle cx="759" cy="2110" r="37"/><text x="759" y="2132">C</text></g>
<g id="n277" class="a lb k"><circle cx="449" cy="2391" r="37"/><text x="449" y="2413">C</text></g>
<g id="n278" class="a lb k"><circle cx="455" cy="2568" r="37"/><text x="455" y="2590">C</text></g>
<g id="n279" class="a lb k"><circle cx="579" cy="2650" r="37"/><text x="579" y="2672">C</text></g>
<g id="n280" class="a lb k"><circle cx="939" cy="2897" r="37"/><text x="939" y="2919">C</text></g>
<g id="n281" class="a db k"><circle cx="679" cy="2523" r="37"/><text x="679" y="2545">C</text></g>
<g id="n282" class="a db k"><circle cx="868" cy="2973" r="37"/><text x="868" y="2995">C</text></g>
<ellipse id="site1" class="site" cx="359" cy="1514" rx="111" ry="81"/>
<ellipse id="site2" class="site" cx="542" cy="1860" rx="112" ry="82"/>
<ellipse id="site4" class="site" cx="704" cy="1215" rx="113" ry="84"/>
<ellipse id="site6" class="site" cx="1009" cy="1981" rx="112" ry="81"/>
<g id="labels">
<text class="num" x="438" y="225">5</text>
<text class="num" x="336" y="1548">1</text>
<text class="num" x="478" y="1871">2</text>
<text class="num" x="762" y="2209">3</text>
<text class="num" x="658" y="1229">4</text>
<text class="num" x="983" y="2020">6</text>
<text class="num" x="1214" y="1502">7</text>
<text class="num" x="844" y="1648">8</text>
<text class="num" x="960" y="2413">9</text>
<text class="num" x="782" y="2737">10</text>
<text class="num" x="962" y="3042">11</text>
<text class="lab bk" x="17" y="490" textLength="114" lengthAdjust="spacingAndGlyphs">NH</text>
<text class="lab bk" x="133" y="512" style="font-size:54px">2</text>
<text class="lab" x="130" y="1182" textLength="198" lengthAdjust="spacingAndGlyphs">HVR1</text>
<text class="lab" x="537" y="615" textLength="209" lengthAdjust="spacingAndGlyphs">HVR2</text>
<text class="lab" x="1064" y="2331" textLength="181" lengthAdjust="spacingAndGlyphs">IgVR</text>
<text class="lab bk" x="1024" y="3548" textLength="237" lengthAdjust="spacingAndGlyphs">COOH</text>
<g filter="url(#heavy)">
<text class="dom" transform="translate(1056.4,828) scale(.66,1)" x="0 121.7 181" fill="#ffff00">DII</text>
<text class="dom" transform="translate(1217.4,1859) scale(.66,1)" x="0 122" fill="#cc0000">DI</text>
<text class="dom" transform="translate(244.4,3299) scale(.66,1)" x="0 122.4 183 243.6" fill="#333399">DIII</text>
</g>
</g>
</svg>
